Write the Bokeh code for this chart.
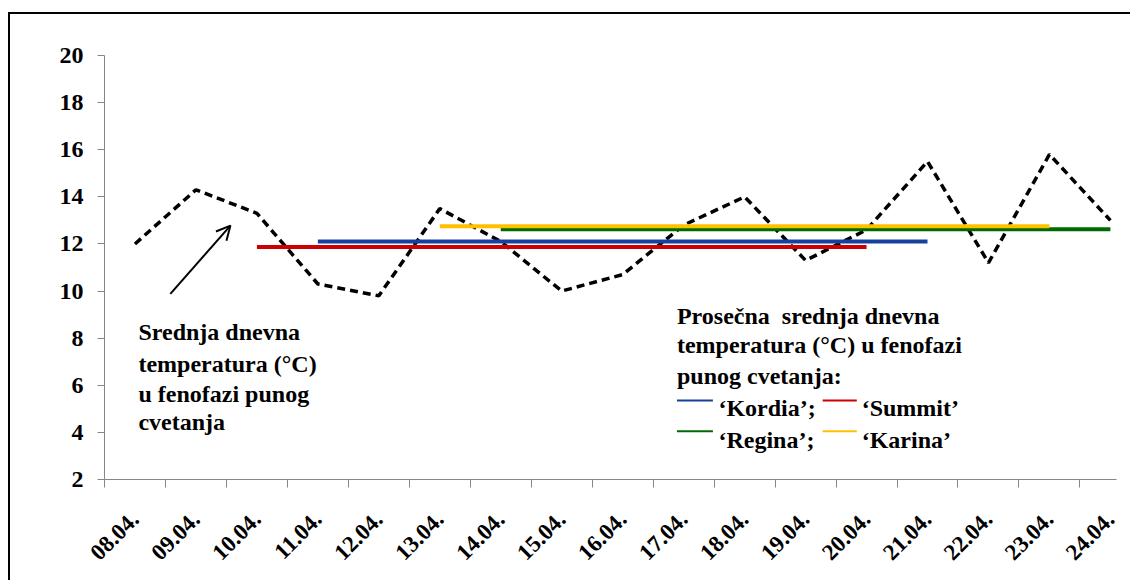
import math
from bokeh.plotting import figure
from bokeh.models import Range1d, FixedTicker, Arrow, OpenHead, ColumnDataSource, Label
from bokeh.embed import file_html
from bokeh.resources import INLINE

# ---- data ----
dates = ["08.04.", "09.04.", "10.04.", "11.04.", "12.04.", "13.04.", "14.04.", "15.04.",
         "16.04.", "17.04.", "18.04.", "19.04.", "20.04.", "21.04.", "22.04.", "23.04.", "24.04."]
daily_temp = [12.0, 14.3, 13.3, 10.3, 9.8, 13.5, 12.1, 10.0, 10.7, 12.8, 14.0, 11.3, 12.6, 15.5, 11.2, 15.8, 13.0]

cultivars = ["Kordia", "Summit", "Regina", "Karina"]
bloom_start = ["11.04.", "10.04.", "14.04.", "13.04."]
bloom_end = ["21.04.", "20.04.", "24.04.", "23.04."]
bloom_avg_temp = [12.1, 11.87, 12.62, 12.75]
cultivar_colors = ["#17409E", "#CC0000", "#006A00", "#FFC000"]

y_ticks = [2, 4, 6, 8, 10, 12, 14, 16, 18, 20]

FAM = "Times New Roman, Liberation Serif, serif"

# category centres
pos = [i + 0.5 for i in range(len(dates))]
idx = {d: i + 0.5 for i, d in enumerate(dates)}

p = figure(width=1122, height=568, output_backend="svg", toolbar_location=None,
           x_range=Range1d(0, 16.6), y_range=Range1d(2, 20),
           min_border_left=94, min_border_right=16, min_border_top=41, min_border_bottom=103,
           styles={"margin-top": "12px", "margin-left": "8px",
                   "border-top": "2px solid black", "border-left": "2px solid black"})
p.outline_line_color = None
p.grid.visible = False
p.background_fill_color = "white"

AX = "#868686"
# x axis
xa = p.xaxis[0]
xa.ticker = FixedTicker(ticks=pos, minor_ticks=list(range(0, len(dates) + 1)))
xa.major_label_overrides = {x: d for x, d in zip(pos, dates)}
xa.major_tick_out = 0
xa.major_tick_in = 0
xa.minor_tick_out = 8
xa.minor_tick_in = 0
xa.minor_tick_line_color = AX
xa.axis_line_color = AX
xa.major_label_orientation = math.pi / 4
xa.major_label_text_font = FAM
xa.major_label_text_font_style = "bold"
xa.major_label_text_font_size = "23px"
xa.major_label_text_color = "black"
xa.major_label_standoff = 28

# y axis
ya = p.yaxis[0]
ya.ticker = FixedTicker(ticks=y_ticks)
ya.major_tick_out = 7
ya.major_tick_in = 0
ya.minor_tick_out = 0
ya.minor_tick_in = 0
ya.major_tick_line_color = AX
ya.axis_line_color = AX
ya.major_label_text_font = FAM
ya.major_label_text_font_style = "bold"
ya.major_label_text_font_size = "24px"
ya.major_label_text_color = "black"
ya.major_label_standoff = 14

# daily mean temperature (dashed)
p.line(pos, daily_temp, line_color="black", line_width=3.5, line_dash="8 5")

# average temperature during full bloom per cultivar
src = ColumnDataSource(dict(
    x0=[idx[s] for s in bloom_start],
    x1=[idx[e] for e in bloom_end],
    y=bloom_avg_temp,
    color=cultivar_colors,
))
p.segment(x0="x0", y0="y", x1="x1", y1="y", color="color", line_width=4, source=src)


def add_text(x, y, t):
    p.add_layout(Label(x=x, y=y, text=t, text_font=FAM, text_font_style="bold",
                       text_font_size="24px", text_baseline="alphabetic",
                       text_align="left", text_color="black"))


# left annotation
left_lines = ["Srednja dnevna", "temperatura (°C)", "u fenofazi punog", "cvetanja"]
for yy, t in zip([8.25, 6.92, 5.65, 4.43], left_lines):
    add_text(0.557, yy, t)
p.add_layout(Arrow(end=OpenHead(size=14, line_width=2, line_color="black"),
                   x_start=1.08, y_start=9.88, x_end=2.066, y_end=12.78,
                   line_width=2, line_color="black"))

# right annotation / legend
right_lines = ["Prosečna\u00a0 srednja dnevna", "temperatura (°C) u fenofazi", "punog cvetanja:"]
for yy, t in zip([8.96, 7.69, 6.41], right_lines):
    add_text(9.39, yy, t)

leg_x0 = [9.39, 11.78, 9.39, 11.78]
leg_x1 = [9.98, 12.34, 9.98, 12.34]
leg_y = [5.35, 5.35, 4.05, 4.05]
leg_text_x = [10.07, 12.42, 10.07, 12.42]
leg_text_y = [5.02, 5.02, 3.69, 3.69]
leg_labels = ["‘" + cultivars[0] + "’;", "‘" + cultivars[1] + "’",
              "‘" + cultivars[2] + "’;", "‘" + cultivars[3] + "’"]
p.segment(x0=leg_x0, y0=leg_y, x1=leg_x1, y1=leg_y, color=cultivar_colors, line_width=2)
for xx, yy, t in zip(leg_text_x, leg_text_y, leg_labels):
    add_text(xx, yy, t)

open("out.html", "w").write(file_html(p, INLINE))
